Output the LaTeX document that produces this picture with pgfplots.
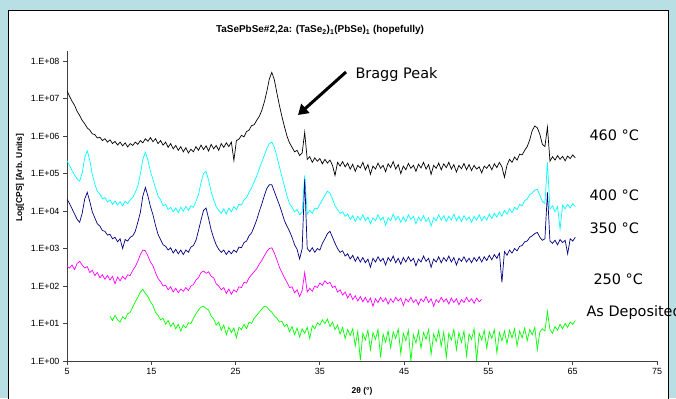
\documentclass[border=0pt]{standalone}
\usepackage{fontspec}
\setmainfont{Liberation Sans}
\newfontfamily\dv{DejaVu Sans}
\usepackage{pgfplots}
\pgfplotsset{compat=1.18}
\usepackage{pgfplotstable}
\usetikzlibrary{arrows.meta}
\definecolor{bgblue}{RGB}{184,223,227}
\definecolor{cCyan}{RGB}{0,255,255}
\definecolor{cNavy}{RGB}{0,0,128}
\definecolor{cMag}{RGB}{255,0,255}
\definecolor{cGreen}{RGB}{0,255,0}
% log10(CPS) for each anneal: k=460C, c=400C, n=350C, m=250C, g=as deposited
\pgfplotstableread{
x k c n m g
5.0 7.21 5.34 4.32 2.53 nan
5.3 7.06 5.22 4.20 2.48 nan
5.6 6.93 5.08 4.06 2.56 nan
5.9 6.82 4.96 3.92 2.44 nan
6.2 6.66 4.86 3.78 2.60 nan
6.5 6.55 4.80 3.70 2.66 nan
6.8 6.42 5.02 3.94 2.56 nan
7.1 6.33 5.42 4.32 2.48 nan
7.4 6.22 5.61 4.50 2.52 nan
7.7 6.16 5.36 4.26 2.36 nan
8.0 6.06 4.98 3.98 2.42 nan
8.3 6.04 4.72 3.82 2.28 nan
8.6 5.95 4.52 3.66 2.36 nan
8.9 5.97 4.46 3.60 2.22 nan
9.2 5.88 4.33 3.48 2.30 nan
9.5 5.93 4.36 3.46 2.18 nan
9.8 5.84 4.24 3.36 2.28 nan
10.1 5.90 4.30 3.38 2.16 1.19
10.4 5.80 4.18 3.26 2.26 1.08
10.7 5.86 4.27 3.30 2.06 1.22
11.0 5.76 4.16 3.18 2.24 1.10
11.3 5.84 4.25 3.26 2.14 1.04
11.6 5.74 4.14 3.00 2.26 1.18
11.9 5.82 4.26 3.24 2.18 1.12
12.2 5.71 4.20 3.20 2.30 1.26
12.5 5.80 4.30 3.30 2.28 1.30
12.8 5.75 4.36 3.34 2.42 1.44
13.1 5.84 4.50 3.46 2.52 1.58
13.4 5.78 4.66 3.70 2.66 1.70
13.7 5.88 4.98 3.96 2.84 1.84
14.0 5.82 5.38 4.40 2.96 1.91
14.3 5.93 5.57 4.63 2.94 1.80
14.6 5.86 5.36 4.40 2.80 1.72
14.9 5.96 5.06 4.12 2.64 1.58
15.2 5.85 4.84 3.90 2.54 1.48
15.5 5.93 4.62 3.62 2.36 1.30
15.8 5.80 4.40 3.38 2.20 1.22
16.1 5.88 4.30 3.24 2.12 1.10
16.4 5.76 4.14 3.10 2.00 1.14
16.7 5.84 4.18 3.06 2.02 0.98
17.0 5.70 4.04 2.96 1.90 1.08
17.3 5.80 4.10 3.02 1.98 0.92
17.6 5.66 3.98 2.88 1.84 1.02
17.9 5.75 4.08 2.98 1.94 0.86
18.2 5.62 3.96 2.86 1.82 0.98
18.5 5.72 4.10 2.96 1.92 0.80
18.8 5.58 4.00 2.84 1.86 0.96
19.1 5.69 4.12 2.96 1.96 0.88
19.4 5.55 4.02 2.90 1.88 1.02
19.7 5.65 4.14 3.04 2.00 1.00
20.0 5.58 4.10 3.08 2.04 1.14
20.3 5.72 4.26 3.22 2.16 1.26
20.6 5.62 4.44 3.48 2.22 1.36
20.9 5.76 4.76 3.76 2.36 1.44
21.2 5.64 5.00 4.02 2.40 1.46
21.5 5.74 5.06 4.08 2.34 1.40
21.8 5.60 4.82 3.80 2.38 1.36
22.1 5.78 4.52 3.50 2.26 1.20
22.4 5.66 4.30 3.28 2.22 1.12
22.7 5.75 4.12 3.10 2.06 0.96
23.0 5.62 4.02 2.98 2.00 1.04
23.3 5.80 3.94 2.90 1.90 0.82
23.6 5.70 4.06 2.96 1.96 0.96
23.9 5.82 3.92 2.84 1.80 0.70
24.2 5.72 4.08 2.94 1.92 0.90
24.5 5.84 3.98 2.86 1.78 0.76
24.8 5.35 4.12 2.96 1.90 0.88
25.1 5.88 4.04 2.90 1.84 0.62
25.4 5.92 4.18 3.04 1.98 0.90
25.7 6.02 4.16 3.02 1.96 0.84
26.0 5.98 4.30 3.16 2.10 0.98
26.3 6.12 4.36 3.20 2.08 0.86
26.6 6.16 4.50 3.34 2.22 1.04
26.9 6.28 4.62 3.42 2.30 1.00
27.2 6.30 4.78 3.58 2.38 1.14
27.5 6.42 4.93 3.76 2.46 1.22
27.8 6.52 5.12 3.98 2.58 1.30
28.1 6.68 5.30 4.18 2.68 1.38
28.4 6.90 5.48 4.40 2.80 1.46
28.7 7.18 5.66 4.60 2.92 1.44
29.0 7.52 5.80 4.70 3.00 1.36
29.3 7.70 5.84 4.70 3.02 1.30
29.6 7.50 5.70 4.52 2.88 1.20
29.9 7.15 5.46 4.34 2.70 1.14
30.2 6.82 5.18 4.16 2.50 1.04
30.5 6.52 4.92 3.96 2.36 1.06
30.8 6.25 4.66 3.74 2.22 0.92
31.1 6.00 4.40 3.60 2.10 0.98
31.4 5.82 4.20 3.46 1.96 0.78
31.7 5.70 4.10 3.30 1.98 0.92
32.0 5.58 3.98 3.10 1.82 0.70
32.3 5.62 4.04 2.98 1.90 0.88
32.6 5.48 3.90 2.72 1.72 0.64
32.9 5.55 3.98 3.00 1.88 0.86
33.2 6.10 4.95 4.85 2.36 0.74
33.5 5.38 3.92 3.00 1.84 0.90
33.8 5.45 4.02 2.92 1.94 0.60
34.1 5.30 3.94 3.02 1.86 0.94
34.4 5.42 4.08 2.90 2.00 0.86
34.7 5.33 4.06 3.00 1.96 1.02
35.0 5.40 4.18 2.96 2.08 0.96
35.3 5.26 4.30 3.14 2.02 1.10
35.6 5.38 4.42 3.26 2.14 1.00
35.9 5.28 4.53 3.40 2.06 1.12
36.2 5.36 4.48 3.46 2.10 0.92
36.5 5.22 4.32 3.30 1.96 1.04
36.8 4.95 4.14 3.14 2.00 0.84
37.1 5.30 4.04 3.00 1.84 0.96
37.4 5.20 3.94 2.90 1.90 0.72
37.7 5.32 3.98 2.94 1.76 0.90
38.0 5.18 3.86 2.80 1.84 0.60
38.3 5.28 3.92 2.86 1.68 0.84
38.6 5.12 3.78 2.72 1.80 0.68
38.9 5.25 3.88 2.82 1.64 0.86
39.2 5.06 3.72 2.66 1.74 0.40
39.5 5.22 3.86 2.78 1.60 0.80
39.8 5.15 3.76 2.64 1.72 0.02
40.1 5.30 3.90 2.76 1.58 0.74
40.4 5.10 3.74 2.62 1.70 0.56
40.7 5.24 3.84 2.72 1.56 0.82
41.0 4.98 3.66 2.50 1.68 0.30
41.3 5.20 3.82 2.74 1.46 0.76
41.6 5.12 3.74 2.64 1.66 0.58
41.9 5.28 3.90 2.78 1.56 0.84
42.2 5.14 3.76 2.66 1.70 0.10
42.5 5.22 3.84 2.74 1.58 0.72
42.8 5.05 3.62 2.56 1.68 0.50
43.1 5.26 3.82 2.76 1.52 0.80
43.4 5.16 3.74 2.66 1.66 0.36
43.7 5.32 3.92 2.80 1.56 0.78
44.0 5.12 3.76 2.62 1.70 0.60
44.3 5.24 3.86 2.74 1.60 0.86
44.6 5.00 3.70 2.58 1.68 0.20
44.9 5.20 3.84 2.76 1.48 0.74
45.2 5.10 3.72 2.64 1.66 0.54
45.5 5.27 3.90 2.78 1.58 0.82
45.8 5.14 3.78 2.66 1.70 0.00
46.1 5.22 3.86 2.74 1.56 0.70
46.4 5.06 3.66 2.54 1.64 0.48
46.7 5.25 3.84 2.72 1.50 0.80
47.0 5.15 3.74 2.64 1.66 0.34
47.3 5.30 3.88 2.80 1.58 0.76
47.6 5.12 3.72 2.66 1.72 0.58
47.9 5.24 3.82 2.74 1.56 0.84
48.2 4.98 3.60 2.50 1.66 0.18
48.5 5.22 3.82 2.72 1.46 0.72
48.8 5.14 3.74 2.64 1.64 0.52
49.1 5.28 3.90 2.78 1.56 0.82
49.4 5.10 3.76 2.62 1.70 0.40
49.7 5.26 3.88 2.76 1.58 0.78
50.0 5.16 3.72 2.66 1.66 0.10
50.3 5.30 3.86 2.80 1.52 0.74
50.6 5.12 3.76 2.64 1.68 0.56
50.9 5.24 3.92 2.76 1.56 0.84
51.2 5.04 3.74 2.56 1.66 0.30
51.5 5.22 3.86 2.74 1.50 0.76
51.8 5.13 3.72 2.66 1.64 0.50
52.1 5.27 3.88 2.78 1.56 0.80
52.4 5.10 3.76 2.64 1.70 0.14
52.7 5.24 3.84 2.74 1.58 0.72
53.0 5.08 3.70 2.62 1.66 0.58
53.3 5.22 3.86 2.76 1.54 0.86
53.6 5.12 3.76 2.66 1.68 0.00
53.9 5.18 3.90 2.78 1.58 0.74
54.2 5.02 3.74 2.64 1.64 0.56
54.5 5.20 3.86 2.78 nan 0.82
54.8 5.14 3.76 2.68 nan 0.34
55.1 5.24 3.92 2.82 nan 0.78
55.4 5.10 3.80 2.70 nan 0.60
55.7 5.26 3.94 2.84 nan 0.84
56.0 5.16 3.84 2.74 nan 0.22
56.3 5.30 3.98 2.88 nan 0.76
56.6 5.18 3.86 2.10 nan 0.54
56.9 4.90 4.02 2.92 nan 0.80
57.2 5.22 3.92 2.82 nan 0.46
57.5 5.38 4.06 2.96 nan 0.82
57.8 5.30 3.96 2.88 nan 0.62
58.1 5.44 4.10 3.00 nan 0.86
58.4 5.36 4.04 2.94 nan 0.40
58.7 5.52 4.18 3.06 nan 0.80
59.0 5.50 4.14 3.08 nan 0.62
59.3 5.62 4.28 3.18 nan 0.88
59.6 5.72 4.32 3.20 nan 0.54
59.9 5.90 4.44 3.30 nan 0.84
60.2 6.15 4.48 3.34 nan 0.70
60.5 6.27 4.56 3.40 nan 0.90
60.8 6.22 4.58 3.43 nan 0.30
61.1 6.05 4.42 3.30 nan 0.78
61.4 5.78 4.26 3.22 nan 0.86
61.7 5.72 4.20 3.26 nan 0.80
62.0 6.24 5.30 4.50 nan 1.32
62.3 5.33 4.05 3.20 nan 0.84
62.6 5.45 4.14 3.14 nan 0.74
62.9 5.36 3.98 3.22 nan 0.92
63.2 5.48 4.12 3.10 nan 0.82
63.5 5.38 3.52 3.24 nan 0.98
63.8 5.46 4.16 3.16 nan 0.86
64.1 5.34 4.06 3.22 nan 1.00
64.4 5.47 4.18 2.86 nan 0.90
64.7 5.40 4.08 3.26 nan 1.04
65.0 5.50 4.20 3.20 nan 0.98
65.3 5.42 4.12 3.30 nan 1.08
}\xrd

\begin{document}
\begin{tikzpicture}[x=1bp,y=1bp]
\fill[bgblue] (0,0) rectangle (676,398);
\draw[fill=white, draw=black, line width=0.8bp] (8,-5) rectangle (668,388);
\begin{axis}[
  at={(67bp,37bp)}, anchor=south west,
  scale only axis, width=590bp, height=310bp,
  xmin=5, xmax=75, ymin=0, ymax=8.27,
  axis x line*=bottom, axis y line*=left,
  axis line style={black!75, line width=0.8bp, -},
  xtick={5,15,25,35,45,55,65,75},
  xticklabels={5,15,25,35,45,55,65,75},
  ytick={0,1,2,3,4,5,6,7,8},
  yticklabels={1.E+00,1.E+01,1.E+02,1.E+03,1.E+04,1.E+05,1.E+06,1.E+07,1.E+08},
  tick style={black!75, line width=0.8bp},
  tick align=outside, major tick length=4bp,
  ticklabel style={font=\fontsize{9}{10}\selectfont},
  /pgf/number format/assume math mode=true,
  unbounded coords=jump,
]
\addplot[black, line width=0.7bp] table[x=x, y=k]{\xrd};
\addplot[cCyan, line width=0.7bp] table[x=x, y=c]{\xrd};
\addplot[cNavy, line width=0.7bp] table[x=x, y=n]{\xrd};
\addplot[cMag, line width=0.7bp] table[x=x, y=m]{\xrd};
\addplot[cGreen, line width=0.7bp] table[x=x, y=g]{\xrd};
\end{axis}
\node[font=\bfseries\fontsize{10}{12}\selectfont] at (320,368) {TaSePbSe\#2,2a: (TaSe\textsubscript{2})\textsubscript{1}(PbSe)\textsubscript{1} (hopefully)};
\node[rotate=90, font=\bfseries\fontsize{8.5}{10}\selectfont] at (20,220) {Log[CPS] [Arb. Units]};
\node[font=\bfseries\fontsize{8.5}{10}\selectfont] at (362,7) {2θ (°)};
\node[anchor=west, font=\dv\fontsize{14.5}{16}\selectfont] at (352,323) {Bragg Peak};
\draw[line width=3bp, -{Triangle[length=10bp,width=12bp]}] (346,326) -- (298,283);
\node[anchor=west, font=\dv\fontsize{14.5}{16}\selectfont] at (586,263) {460 °C};
\node[anchor=west, font=\dv\fontsize{14.5}{16}\selectfont] at (586,203) {400 °C};
\node[anchor=west, font=\dv\fontsize{14.5}{16}\selectfont] at (586,170) {350 °C};
\node[anchor=west, font=\dv\fontsize{14.5}{16}\selectfont] at (590,119) {250 °C};
\node[anchor=west, font=\dv\fontsize{14.5}{16}\selectfont] at (583,85) {As Deposited};
\pgfresetboundingbox
\path[use as bounding box] (0,0) rectangle (676,398);
\end{tikzpicture}
\end{document}
